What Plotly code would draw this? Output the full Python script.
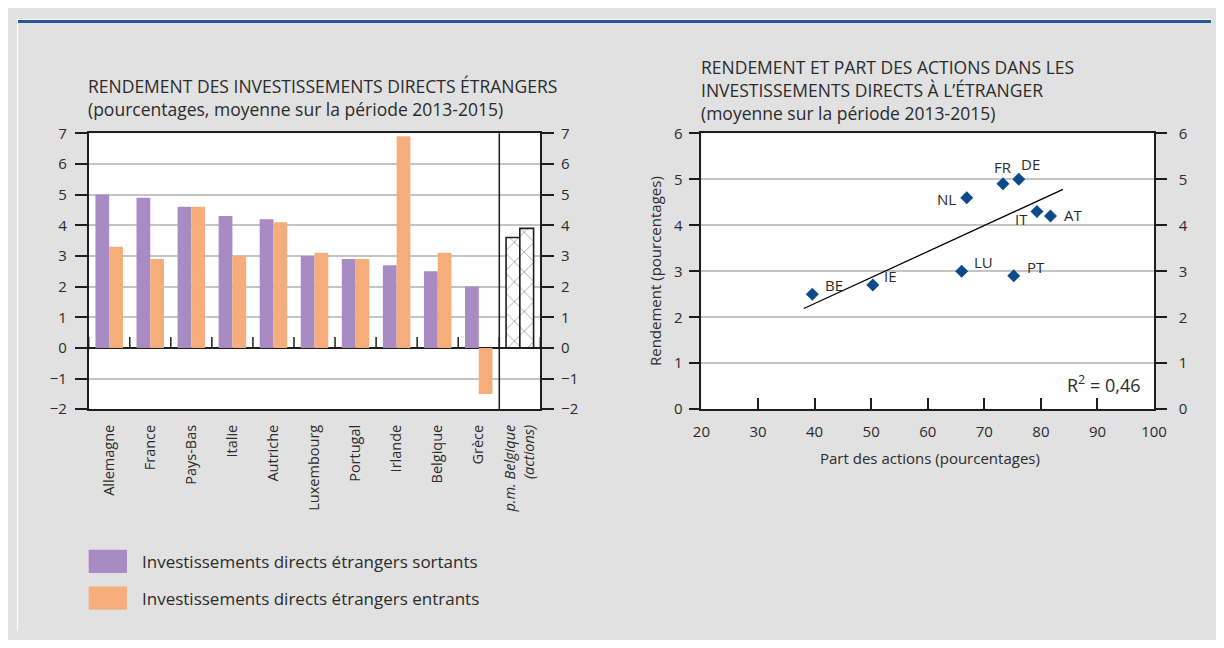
import plotly.graph_objects as go

# ---------------- data ----------------
countries = ["Allemagne", "France", "Pays-Bas", "Italie", "Autriche",
             "Luxembourg", "Portugal", "Irlande", "Belgique", "Grèce"]
memo_label = "<i>p.m. Belgique</i><br><i>(actions)</i>"
outgoing = [5.0, 4.9, 4.6, 4.3, 4.2, 3.0, 2.9, 2.7, 2.5, 2.0]
incoming = [3.3, 2.9, 4.6, 3.0, 4.1, 3.1, 2.9, 6.9, 3.1, -1.5]
memo_outgoing = 3.6
memo_incoming = 3.9

codes = ["BE", "IE", "LU", "NL", "FR", "DE", "PT", "IT", "AT"]
equity_share = [39.6, 50.3, 66.0, 66.9, 73.3, 76.1, 75.2, 79.3, 81.7]
returns = [2.5, 2.7, 3.0, 4.6, 4.9, 5.0, 2.9, 4.3, 4.2]
trend_x = [38.1, 83.9]
trend_y = [2.19, 4.78]
r2_text = "R<sup>2</sup> = 0,46"

legend_names = ["Investissements directs étrangers sortants",
                "Investissements directs étrangers entrants"]
left_title = ["RENDEMENT DES INVESTISSEMENTS DIRECTS ÉTRANGERS",
              "(pourcentages, moyenne sur la période 2013-2015)"]
right_title = ["RENDEMENT ET PART DES ACTIONS DANS LES",
               "INVESTISSEMENTS DIRECTS À L’ÉTRANGER",
               "(moyenne sur la période 2013-2015)"]

# ---------------- styles ----------------
PAGE_W, PAGE_H = 1224, 648
OFF = 8                      # default body margin of the page
W, H = PAGE_W - OFF, PAGE_H - 2 * OFF
FONT = "Open Sans"
TXT = "#2b2b2b"
PURPLE = "#a78bc2"
ORANGE = "#f5ae7b"
BLUE = "#0d4a8a"
GRID = "#c4c4c4"
LINE = "#1e1e1e"
BG = "#e1e1e1"
FS = 15
CAT_FS = 14.5
TITLE_FS = 17.5
LEGEND_FS = 17

# pixel offsets of scatter labels (xshift, yshift)
label_offsets = {"BE": (22, 9), "IE": (18, 9), "LU": (22, 9), "NL": (-20, -1),
                 "FR": (0, 17), "DE": (12, 15), "PT": (22, 9), "IT": (-15, -8),
                 "AT": (23, 1)}


def px(x):
    """page pixel x -> paper fraction"""
    return (x - OFF) / W


def py(y):
    """page pixel y -> paper fraction"""
    return 1 - (y - OFF) / H


categories = countries + [memo_label]
n = len(categories)

fig = go.Figure()

for vals, memo_val, col, name in [(outgoing, memo_outgoing, PURPLE, legend_names[0]),
                                  (incoming, memo_incoming, ORANGE, legend_names[1])]:
    fig.add_trace(go.Bar(
        x=categories, y=vals + [memo_val], name=name,
        xaxis="x", yaxis="y",
        marker=dict(
            color=[col] * len(countries) + ["white"],
            pattern=dict(shape=[""] * len(countries) + ["x"],
                         fgcolor=col, bgcolor="white", size=14, solidity=0.12),
            line=dict(color=["rgba(0,0,0,0)"] * len(countries) + [LINE],
                      width=[0] * len(countries) + [1.6]),
        ),
        showlegend=False,
    ))
# invisible trace to keep yaxis2 active
fig.add_trace(go.Scatter(x=[categories[0]], y=[0], xaxis="x", yaxis="y2",
                         mode="markers", marker=dict(opacity=0),
                         showlegend=False, hoverinfo="skip"))

# scatter chart
fig.add_trace(go.Scatter(x=trend_x, y=trend_y, mode="lines", xaxis="x2", yaxis="y3",
                         line=dict(color="black", width=1.3), showlegend=False))
fig.add_trace(go.Scatter(x=equity_share, y=returns, mode="markers", xaxis="x2", yaxis="y3",
                         marker=dict(symbol="diamond", size=10, color=BLUE),
                         showlegend=False))
fig.add_trace(go.Scatter(x=[20], y=[0], xaxis="x2", yaxis="y4", mode="markers",
                         marker=dict(opacity=0), showlegend=False, hoverinfo="skip"))

left_dom_x = [px(81), px(541)]
dom_y = [py(411), py(126)]
right_dom_x = [px(705), px(1166)]

axis_common = dict(showline=True, linecolor=LINE, linewidth=1.5,
                   tickfont=dict(family=FONT, size=FS, color=TXT),
                   tickcolor=LINE, tickwidth=1.5)

fig.update_layout(
    width=W, height=H,
    margin=dict(l=0, r=0, t=0, b=0),
    paper_bgcolor=BG, plot_bgcolor="white",
    font=dict(family=FONT, size=FS, color=TXT),
    barmode="group", bargap=0.33, bargroupgap=0,
    xaxis=dict(domain=left_dom_x, anchor="y", type="category",
               range=[-0.5, n - 0.5], mirror=True, ticks="", tickangle=-90,
               ticklabelstandoff=8, showgrid=False, fixedrange=True,
               showline=True, linecolor=LINE, linewidth=1.5,
               tickfont=dict(family=FONT, size=CAT_FS, color=TXT)),
    yaxis=dict(domain=dom_y, anchor="x", range=[-2, 7], dtick=1,
               ticks="outside", ticklen=12, showgrid=True, gridcolor=GRID,
               gridwidth=1.5, zeroline=True, zerolinecolor=LINE,
               zerolinewidth=1.5, ticklabelstandoff=5, **axis_common),
    yaxis2=dict(domain=dom_y, anchor="x", overlaying="y", side="right",
                range=[-2, 7], dtick=1, ticks="outside", ticklen=12,
                showgrid=False, zeroline=False, ticklabelstandoff=4,
                **axis_common),
    xaxis2=dict(domain=right_dom_x, anchor="y3", range=[20, 100], dtick=10,
                ticks="inside", ticklen=11, mirror=True, showgrid=False,
                zeroline=False, ticklabelstandoff=8, **axis_common),
    yaxis3=dict(domain=dom_y, anchor="x2", range=[0, 6], dtick=1,
                ticks="outside", ticklen=11, showgrid=True, gridcolor=GRID,
                gridwidth=1.5, zeroline=False, ticklabelstandoff=3,
                **axis_common),
    yaxis4=dict(domain=dom_y, anchor="x2", overlaying="y3", side="right",
                range=[0, 6], dtick=1, ticks="outside", ticklen=11,
                showgrid=False, zeroline=False, ticklabelstandoff=9,
                **axis_common),
)

shapes = []
# white strips + blue rule at top
shapes.append(dict(type="rect", xref="paper", yref="paper", x0=0, x1=1,
                   y0=py(10), y1=1, fillcolor="white", line_width=0, layer="below"))
shapes.append(dict(type="rect", xref="paper", yref="paper", x0=0, x1=px(9),
                   y0=0, y1=1, fillcolor="white", line_width=0, layer="below"))
shapes.append(dict(type="line", xref="paper", yref="paper", x0=px(9), x1=1,
                   y0=py(10.5), y1=py(10.5), line=dict(color="#245a97", width=3)))
# category boundary ticks on the zero line
for i in range(n + 1):
    shapes.append(dict(type="line", xref="x", yref="y", x0=i - 0.5, x1=i - 0.5,
                       y0=0, y1=0.36, line=dict(color=LINE, width=1.5)))
# divider before memo item
shapes.append(dict(type="line", xref="x", yref="y domain",
                   x0=len(countries) - 0.5, x1=len(countries) - 0.5, y0=0, y1=1,
                   line=dict(color=LINE, width=1.5)))
# legend swatches
for k, col in enumerate([PURPLE, ORANGE]):
    y0 = 556 + 38 * k
    shapes.append(dict(type="rect", xref="paper", yref="paper", x0=px(81), x1=px(120),
                       y0=py(y0 + 24), y1=py(y0), fillcolor=col, line_width=0))
fig.update_layout(shapes=shapes)

ann = []
ann.append(dict(text="<br>".join(left_title), xref="paper", yref="paper",
                x=px(78), y=py(89.5), xanchor="left", yanchor="middle", align="left",
                showarrow=False, font=dict(family=FONT, size=TITLE_FS, color=TXT)))
ann.append(dict(text="<br>".join(right_title), xref="paper", yref="paper",
                x=px(703), y=py(81), xanchor="left", yanchor="middle", align="left",
                showarrow=False, font=dict(family=FONT, size=TITLE_FS, color=TXT)))
for k, t in enumerate(legend_names):
    ann.append(dict(text=t, xref="paper", yref="paper", x=px(133), y=py(568 + 38 * k),
                    xanchor="left", yanchor="middle", showarrow=False,
                    font=dict(family=FONT, size=LEGEND_FS, color=TXT)))
ann.append(dict(text="Rendement (pourcentages)", xref="paper", yref="paper",
                x=px(658), y=py(268), textangle=-90, showarrow=False,
                xanchor="center", yanchor="middle",
                font=dict(family=FONT, size=FS, color=TXT)))
ann.append(dict(text="Part des actions (pourcentages)", xref="paper", yref="paper",
                x=px(938), y=py(461), showarrow=False, xanchor="center", yanchor="middle",
                font=dict(family=FONT, size=FS, color=TXT)))
for c, xv, yv in zip(codes, equity_share, returns):
    dx, dy = label_offsets[c]
    ann.append(dict(text=c, xref="x2", yref="y3", x=xv, y=yv, xshift=dx, yshift=dy,
                    showarrow=False, font=dict(family=FONT, size=FS, color=TXT)))
ann.append(dict(text=r2_text, xref="x2 domain", yref="y3 domain", x=0.975, y=0.09,
                xanchor="right", yanchor="middle", showarrow=False,
                font=dict(family=FONT, size=18, color=TXT)))
fig.update_layout(annotations=ann)

fig.write_html("out.html", config={"displayModeBar": False})
